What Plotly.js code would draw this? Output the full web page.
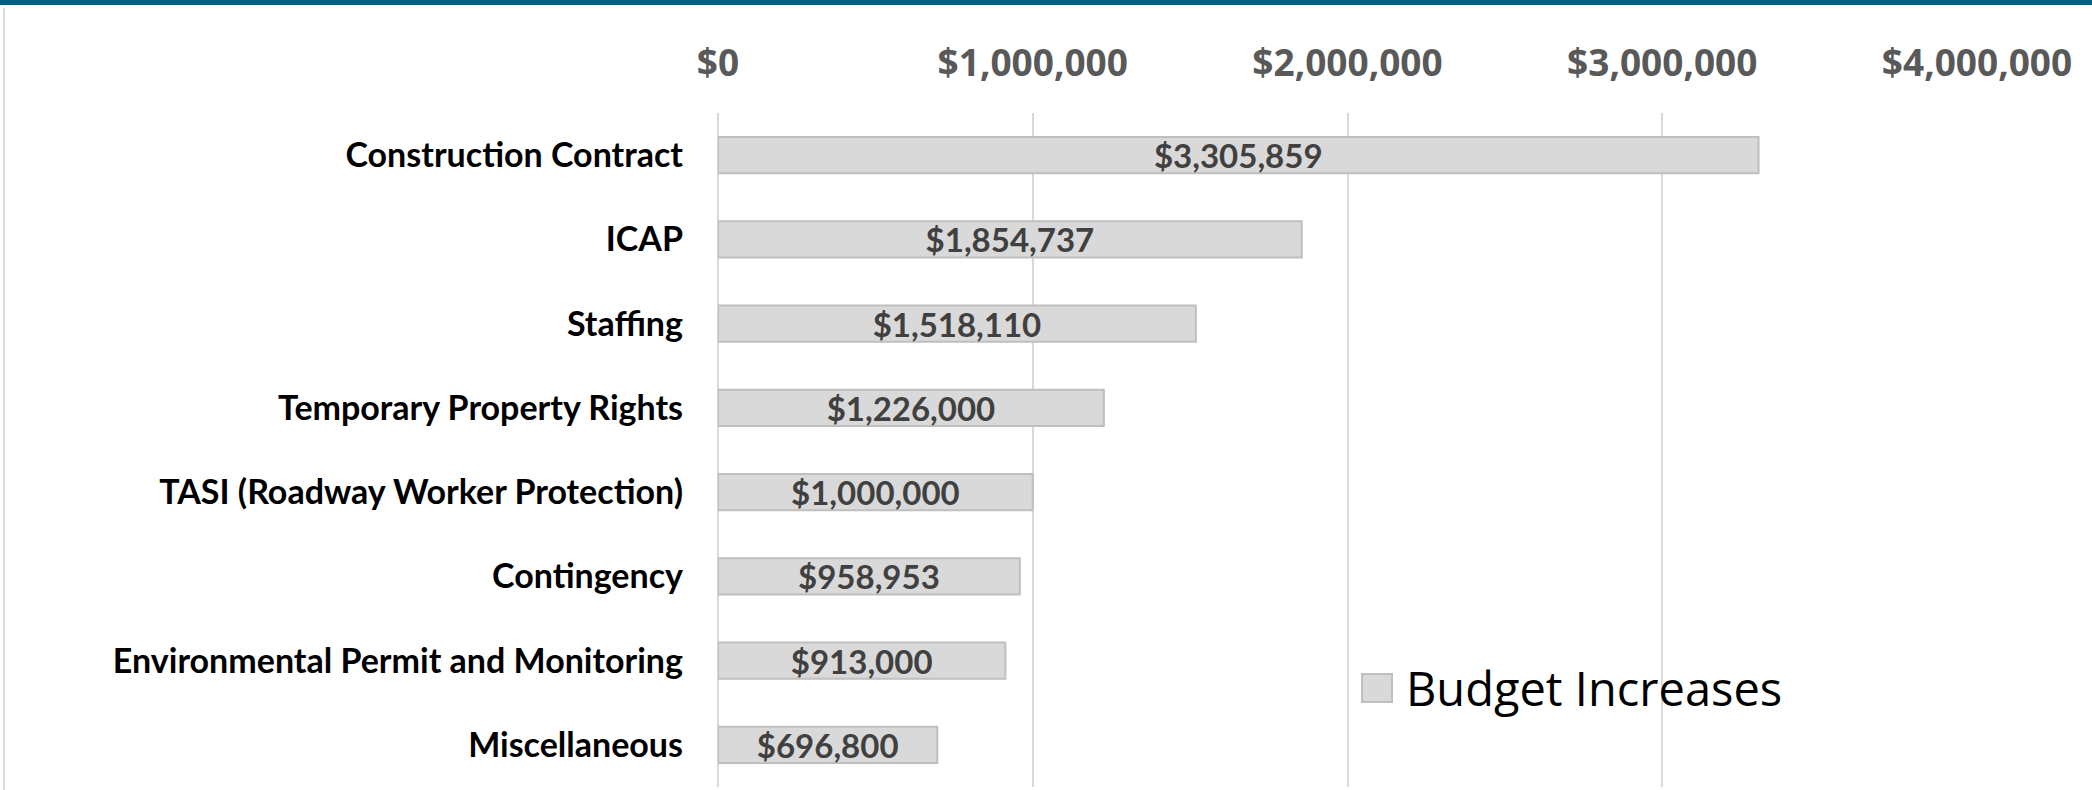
<!DOCTYPE html>
<html>
<head>
<meta charset="utf-8">
<script src="https://cdn.plot.ly/plotly-3.0.1.min.js"></script>
<style>
html,body{margin:0;padding:0;background:#fff;}
#chart{width:2092px;height:790px;}
</style>
</head>
<body>
<div id="chart"></div>
<script>
const categories = [
  "Construction Contract",
  "ICAP",
  "Staffing",
  "Temporary Property Rights",
  "TASI (Roadway Worker Protection)",
  "Contingency",
  "Environmental Permit and Monitoring",
  "Miscellaneous"
];
const budgetIncreases = [3305859, 1854737, 1518110, 1226000, 1000000, 958953, 913000, 696800];
const seriesName = "Budget Increases";
const tickValues = [0, 1000000, 2000000, 3000000, 4000000];
const tickLabels = ["$0", "$1,000,000", "$2,000,000", "$3,000,000", "$4,000,000"];

const W = 2092, H = 790;
const M = {l: 718, r: 115, t: 113, b: 3};
const pw = W - M.l - M.r, ph = H - M.t - M.b;
const px = x => (x - M.l) / pw;
const py = y => (H - M.b - y) / ph;

const font = "Lato, 'Open Sans', sans-serif";
const barFill = "#D9D9D9", barLine = "#BFBFBF";

const trace = {
  type: "bar",
  orientation: "h",
  name: seriesName,
  y: categories,
  x: budgetIncreases,
  marker: {color: barFill, line: {color: barLine, width: 2}},
  texttemplate: "$%{x:,d}",
  textposition: "inside",
  insidetextanchor: "middle",
  constraintext: "none",
  textfont: {family: font, size: 33, color: "#404040", weight: "bold"},
  showlegend: false,
  hoverinfo: "skip"
};

const layout = {
  width: W, height: H,
  margin: M,
  paper_bgcolor: "#ffffff",
  plot_bgcolor: "#ffffff",
  bargap: 0.57,
  showlegend: false,
  xaxis: {
    side: "top",
    range: [0, 4000000],
    tickmode: "array",
    tickvals: tickValues,
    ticktext: tickLabels,
    showgrid: true, gridcolor: "#D9D9D9", gridwidth: 2,
    zeroline: true, zerolinecolor: "#D9D9D9", zerolinewidth: 2,
    showline: false, ticks: "",
    ticklabelstandoff: 29,
    tickfont: {family: "'Open Sans', sans-serif", size: 37, color: "#595959", weight: "bold"},
    automargin: false, fixedrange: true
  },
  yaxis: {
    type: "category",
    autorange: "reversed",
    showgrid: false, zeroline: false, showline: false, ticks: "",
    ticklabelstandoff: 34,
    tickfont: {family: font, size: 34, color: "#000000", weight: "bold"},
    automargin: false, fixedrange: true
  },
  shapes: [
    {type: "rect", xref: "paper", yref: "paper", x0: px(0), x1: px(W), y0: py(5), y1: py(0),
     fillcolor: "#035D80", line: {width: 0}, layer: "above"},
    {type: "line", xref: "paper", yref: "paper", x0: px(4), x1: px(4), y0: py(8), y1: py(H),
     line: {color: "#D9D9D9", width: 2}},
    // legend swatch
    {type: "rect", xref: "paper", yref: "paper", x0: px(1362), x1: px(1392), y0: py(702), y1: py(674),
     fillcolor: barFill, line: {color: barLine, width: 2}, layer: "above"}
  ],
  annotations: [
    {xref: "paper", yref: "paper", x: px(1404), y: py(688), xanchor: "left", yanchor: "middle",
     text: seriesName, showarrow: false,
     font: {family: "'Open Sans', sans-serif", size: 47, color: "#000000"}}
  ]
};

Plotly.newPlot("chart", [trace], layout, {displayModeBar: false, staticPlot: true});
</script>
</body>
</html>
